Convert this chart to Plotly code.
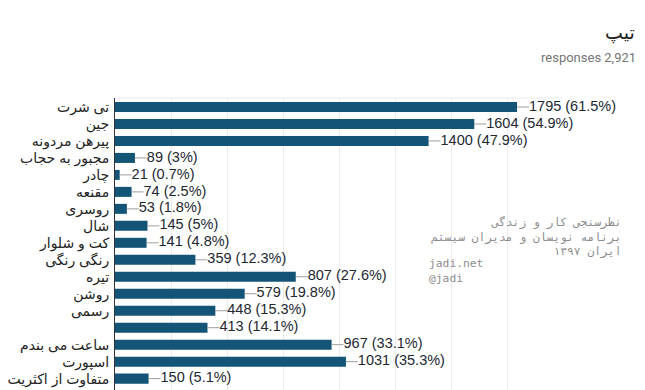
import plotly.graph_objects as go

labels = ["تی شرت", "جین", "پیرهن مردونه", "مجبور به حجاب", "چادر", "مقنعه", "روسری",
          "شال", "کت و شلوار", "رنگی رنگی", "تیره", "روشن", "رسمی", "",
          "ساعت می بندم", "اسپورت", "متفاوت از اکثریت", ""]
values = [1795, 1604, 1400, 89, 21, 74, 53, 145, 141, 359, 807, 579, 448, 413, 967, 1031, 150, 1]
percents = ["61.5%", "54.9%", "47.9%", "3%", "0.7%", "2.5%", "1.8%", "5%", "4.8%", "12.3%",
            "27.6%", "19.8%", "15.3%", "14.1%", "33.1%", "35.3%", "5.1%", "0%"]
x_ticks = [0, 250, 500, 750, 1000, 1250, 1500, 1750, 2000]

title_text = "تیپ"
subtitle_text = "responses 2,921"
wm_fa = "نظرسنجی کار و زندگی<br>برنامه نویسان و مدیران سیستم<br>ایران ۱۳۹۷"
wm_en = "jadi.net<br>@jadi"

# the page body has an 8px margin; compensate so the figure fills the window
OFF = 8
W, H = 645 - OFF, 390 - OFF
ML, MR, MT, MB = 112 - OFF, 82, 98 - OFF, 0
PW, PH = W - ML - MR, H - MT - MB
X_MAX = 2000

def px_x(px):
    return (px - OFF - ML) / PW

def px_y(py):
    return (H - MB - (py - OFF)) / PH

ypos = list(range(len(labels)))
leader = 12 * X_MAX / PW  # leader length of ~12px, in data units

lx, ly = [], []
for v, yy in zip(values, ypos):
    lx += [v, v + leader, None]
    ly += [yy, yy, None]

fig = go.Figure()
fig.add_trace(go.Bar(
    x=values, y=ypos, orientation="h",
    marker=dict(color="#145476", line=dict(width=0)),
    width=0.59, hoverinfo="skip",
))
fig.add_trace(go.Scatter(
    x=lx, y=ly, mode="lines", line=dict(color="#9e9e9e", width=1),
    cliponaxis=False, hoverinfo="skip",
))
fig.add_trace(go.Scatter(
    x=[v + leader for v in values], y=ypos, mode="text",
    text=[f"{v} ({p})" for v, p in zip(values, percents)],
    textposition="middle right", cliponaxis=False, hoverinfo="skip",
    textfont=dict(family="Liberation Sans, Arial", size=14.5, color="#222831"),
))

annotations = [
    dict(x=px_x(637), y=px_y(33), xref="paper", yref="paper", text=title_text,
         showarrow=False, xanchor="right", yanchor="middle",
         font=dict(family="Liberation Serif, DejaVu Sans", size=19, color="#212121")),
    dict(x=px_x(639), y=px_y(58), xref="paper", yref="paper", text=subtitle_text,
         showarrow=False, xanchor="right", yanchor="middle",
         font=dict(family="Roboto", size=13, color="#757575")),
    dict(x=px_x(623), y=px_y(213), xref="paper", yref="paper", text=wm_fa,
         showarrow=False, xanchor="right", yanchor="top", align="right",
         font=dict(family="DejaVu Sans Mono, monospace", size=11.3, color="#8c8c8c")),
    dict(x=px_x(426), y=px_y(255), xref="paper", yref="paper", text=wm_en,
         showarrow=False, xanchor="left", yanchor="top", align="left",
         font=dict(family="DejaVu Sans Mono, monospace", size=11.3, color="#8c8c8c")),
]

fig.update_layout(
    width=W, height=H,
    margin=dict(l=ML, r=MR, t=MT, b=MB),
    paper_bgcolor="white", plot_bgcolor="white",
    showlegend=False,
    annotations=annotations,
    shapes=[dict(type="line", xref="paper", yref="paper", x0=0, x1=1, y0=1, y1=1,
                 line=dict(color="#ebebeb", width=1))],
    xaxis=dict(range=[0, X_MAX], tickvals=x_ticks, showticklabels=False,
               showgrid=True, gridcolor="#ebebeb", gridwidth=1, zeroline=False,
               showline=False, fixedrange=True),
    yaxis=dict(range=[16.67, -0.53], tickvals=ypos, ticktext=labels,
               showgrid=False, zeroline=False, showline=True, linecolor="#333333",
               linewidth=1, ticks="", ticklabelstandoff=2,
               tickfont=dict(family="Liberation Sans, Arial, DejaVu Sans", size=14, color="#222222"),
               fixedrange=True),
)

fig.write_html("out.html")
